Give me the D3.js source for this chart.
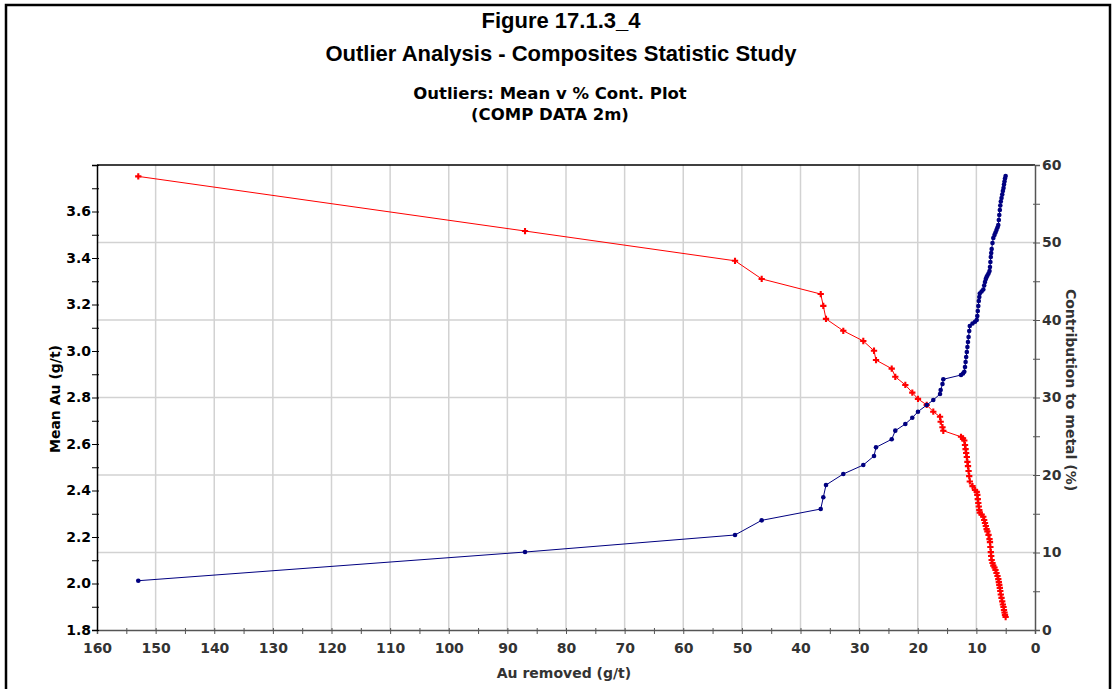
<!DOCTYPE html>
<html>
<head>
<meta charset="utf-8">
<script src="https://cdn.jsdelivr.net/npm/d3@7"></script>
<style>
  body { margin: 0; background: #fff; }
  svg { display: block; }
</style>
</head>
<body>
<svg id="chart" width="1116" height="689"></svg>
<script>
// Au removed (g/t) - cut value, decreasing
const auRemoved = [
  152.96, 86.99, 51.17, 46.62, 36.55, 36.11, 35.65, 32.70, 29.29, 27.46, 27.12,
  24.44, 23.83, 22.12, 20.93, 19.96, 18.47, 17.35, 16.20, 16.09, 15.78, 15.64,
  12.62, 12.28, 12.06, 11.94, 11.84, 11.74, 11.63, 11.53, 11.43, 11.33, 11.22, 11.12,
  10.66, 10.23, 9.94, 9.84, 9.76, 9.67, 9.59, 9.50, 9.42, 9.11, 8.82,
  8.67, 8.53, 8.39, 8.26, 8.12, 7.93, 7.76, 7.68, 7.61, 7.54, 7.47, 7.39, 7.25, 7.11,
  6.91, 6.74, 6.57, 6.40, 6.26, 6.17, 6.09, 6.00, 5.92, 5.83,
  5.71, 5.59, 5.48, 5.37, 5.29, 5.20, 5.12, 5.01
];
// Mean Au (g/t) after removing outliers above the cut
const meanAu = [
  3.751, 3.516, 3.388, 3.310, 3.245, 3.194, 3.138, 3.087, 3.043, 3.001, 2.961,
  2.924, 2.889, 2.854, 2.821, 2.794, 2.768, 2.739, 2.717, 2.696, 2.672, 2.657,
  2.631, 2.624, 2.615, 2.596, 2.578, 2.561, 2.544, 2.523, 2.505, 2.484, 2.462, 2.439,
  2.419, 2.402, 2.394, 2.381, 2.363, 2.346, 2.331, 2.316, 2.305, 2.297, 2.287,
  2.273, 2.260, 2.247, 2.234, 2.224, 2.209, 2.191, 2.178, 2.157, 2.135, 2.118, 2.101, 2.088, 2.077,
  2.069, 2.058, 2.045, 2.032, 2.019, 2.006, 1.994, 1.981, 1.968, 1.953,
  1.938, 1.923, 1.910, 1.899, 1.886, 1.875, 1.865, 1.856
];
// Contribution to metal (%)
const contribution = [
  6.36, 10.06, 12.26, 14.15, 15.61, 17.12, 18.71, 20.13, 21.29, 22.45, 23.57,
  24.61, 25.72, 26.58, 27.39, 28.17, 29.03, 29.68, 30.45, 30.97, 31.74, 32.35,
  32.90, 33.10, 33.33, 33.94, 34.58, 35.23, 35.87, 36.52, 37.16, 37.81, 38.58, 39.23,
  39.55, 39.78, 40.00, 40.52, 41.16, 41.81, 42.45, 42.97, 43.42, 43.68, 43.94,
  44.45, 44.90, 45.29, 45.55, 45.74, 46.00, 46.32, 46.84, 47.48, 48.13, 48.65, 49.16, 49.94, 50.58,
  50.97, 51.29, 51.61, 51.94, 52.26, 52.90, 53.55, 54.19, 54.77, 55.29,
  55.74, 56.19, 56.65, 57.03, 57.48, 57.87, 58.26, 58.58
];

const xTicks = [160, 150, 140, 130, 120, 110, 100, 90, 80, 70, 60, 50, 40, 30, 20, 10, 0];
const leftTicks = [1.8, 2.0, 2.2, 2.4, 2.6, 2.8, 3.0, 3.2, 3.4, 3.6];
const rightTicks = [0, 10, 20, 30, 40, 50, 60];

const titleLines = ["Figure 17.1.3_4", "Outlier Analysis - Composites Statistic Study"];
const subtitleLines = ["Outliers: Mean v % Cont. Plot", "(COMP DATA 2m)"];

const margin = {top: 165, right: 81, bottom: 59, left: 97};
const width = 1116, height = 689;
const svg = d3.select("#chart");

const x = d3.scaleLinear().domain([160, 0]).range([margin.left, width - margin.right]);
const yL = d3.scaleLinear().domain([1.8, 3.8]).range([height - margin.bottom, margin.top]);
const yR = d3.scaleLinear().domain([0, 60]).range([height - margin.bottom, margin.top]);

const pts = auRemoved.map((v, i) => ({x: v, mean: meanAu[i], pct: contribution[i]}));

// outer frame
svg.append("rect")
  .attr("x", 6).attr("y", 5)
  .attr("width", 1104).attr("height", 700)
  .attr("fill", "none").attr("stroke", "#000").attr("stroke-width", 2.5);

// titles
svg.append("g").selectAll("text").data(titleLines).join("text")
  .attr("x", 561).attr("y", (d, i) => 28 + i * 33)
  .attr("text-anchor", "middle")
  .attr("font-family", "Liberation Sans, Arial, sans-serif")
  .attr("font-weight", "bold").attr("font-size", 22)
  .text(d => d);

svg.append("g").selectAll("text").data(subtitleLines).join("text")
  .attr("x", 550).attr("y", (d, i) => 99 + i * 21)
  .attr("text-anchor", "middle")
  .attr("font-family", "DejaVu Sans, Verdana, sans-serif")
  .attr("font-weight", "bold").attr("font-size", 16.5)
  .text(d => d);

// grid
const grid = svg.append("g").attr("stroke", "#d2d2d2").attr("stroke-width", 1.5);
grid.selectAll("line.v").data(xTicks.filter(d => d > 0 && d < 160)).join("line")
  .attr("x1", d => x(d)).attr("x2", d => x(d))
  .attr("y1", margin.top).attr("y2", height - margin.bottom);
grid.selectAll("line.h").data(rightTicks.filter(d => d > 0 && d < 60)).join("line")
  .attr("x1", margin.left).attr("x2", width - margin.right)
  .attr("y1", d => yR(d)).attr("y2", d => yR(d));

// top border
svg.append("line")
  .attr("x1", margin.left).attr("x2", width - margin.right)
  .attr("y1", margin.top).attr("y2", margin.top)
  .attr("stroke", "#000").attr("stroke-width", 1.5);

const tickFont = sel => sel
  .attr("font-family", "DejaVu Sans, Verdana, sans-serif").attr("font-weight", "bold")
  .attr("font-size", 14);

// bottom axis
const xAxis = svg.append("g")
  .attr("transform", `translate(0,${height - margin.bottom})`)
  .call(d3.axisBottom(x).tickValues(d3.range(160, -1, -5)).tickSize(4).tickFormat(d => d % 10 === 0 ? d : ""));
xAxis.select(".domain").attr("stroke", "#555").attr("stroke-width", 1.5);
xAxis.selectAll(".tick line").attr("stroke", "#555").attr("y1", -2).attr("y2", 4);
xAxis.selectAll(".tick text").call(tickFont).attr("fill", "#333").attr("y", 9).attr("dy", "1em");

// left axis
const leftAxis = svg.append("g")
  .attr("transform", `translate(${margin.left},0)`)
  .call(d3.axisLeft(yL).tickValues(d3.range(18, 39, 1).map(d => d / 10)).tickSize(5)
    .tickFormat(d => leftTicks.some(t => Math.abs(t - d) < 1e-6) ? d3.format(".1f")(d) : ""));
leftAxis.select(".domain").attr("stroke", "#000").attr("stroke-width", 1.5);
leftAxis.selectAll(".tick line").attr("stroke", "#000").attr("x2", -5).attr("x1", 2);
leftAxis.selectAll(".tick text").call(tickFont).attr("fill", "#000").attr("x", -6);

// right axis
const rightAxis = svg.append("g")
  .attr("transform", `translate(${width - margin.right},0)`)
  .call(d3.axisRight(yR).tickValues(d3.range(0, 61, 5)).tickSize(5)
    .tickFormat(d => d % 10 === 0 ? d : ""));
rightAxis.select(".domain").attr("stroke", "#555").attr("stroke-width", 1.5);
rightAxis.selectAll(".tick line").attr("stroke", "#555").attr("x1", -2).attr("x2", 5);
rightAxis.selectAll(".tick text").call(tickFont).attr("fill", "#333").attr("x", 7);

// axis titles
const axisFont = g => g.attr("font-family", "DejaVu Sans, Verdana, sans-serif")
  .attr("font-weight", "bold").attr("font-size", 14).attr("text-anchor", "middle");
svg.append("text").call(axisFont)
  .attr("transform", "translate(60,399) rotate(-90)").attr("fill", "#000")
  .text("Mean Au (g/t)");
svg.append("text").call(axisFont)
  .attr("transform", "translate(1066,390) rotate(90)").attr("fill", "#333")
  .text("Contribution to metal (%)");
svg.append("text").call(axisFont)
  .attr("x", 564).attr("y", 678).attr("fill", "#333")
  .text("Au removed (g/t)");

// series
const redLine = d3.line().x(d => x(d.x)).y(d => yL(d.mean));
const blueLine = d3.line().x(d => x(d.x)).y(d => yR(d.pct));

svg.append("path").datum(pts)
  .attr("fill", "none").attr("stroke", "#ff0000").attr("stroke-width", 1)
  .attr("d", redLine);
svg.append("path").datum(pts)
  .attr("fill", "none").attr("stroke", "#000080").attr("stroke-width", 1)
  .attr("d", blueLine);

svg.append("g").attr("fill", "#ff0000")
  .selectAll("path").data(pts).join("path")
  .attr("transform", d => `translate(${x(d.x)},${yL(d.mean)})`)
  .attr("d", d3.symbol(d3.symbolCross, 22));

svg.append("g").attr("fill", "#000080")
  .selectAll("circle").data(pts).join("circle")
  .attr("cx", d => x(d.x)).attr("cy", d => yR(d.pct)).attr("r", 2.3);
</script>
</body>
</html>
